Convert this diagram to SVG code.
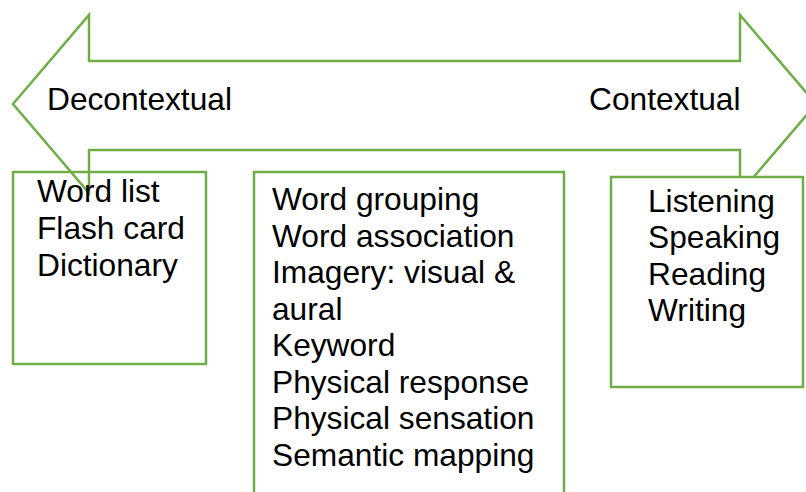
<svg xmlns="http://www.w3.org/2000/svg" width="806" height="492" viewBox="0 0 806 492">
  <style>
    .outline { stroke: #70AD47; stroke-width: 2.5; stroke-linejoin: miter; }
    .label { font-family: "Liberation Sans", Arial, sans-serif; font-size: 31.7px; fill: #000; }
  </style>
  <rect width="806" height="492" fill="#fff"/>

  <!-- double-headed arrow spanning the continuum -->
  <g id="continuum">
    <path class="outline" fill="#fff" d="M13,104 L89,15 L89,61 L740,61 L740,15 L816,104 L740,193 L740,150 L89,150 L89,193 Z"/>
    <text class="label" x="47" y="110">Decontextual</text>
    <text class="label" x="589" y="110">Contextual</text>
  </g>

  <!-- decontextual strategies -->
  <g id="box-decontextual">
    <rect class="outline" fill="none" x="13" y="172" width="193" height="192"/>
    <text class="label" x="37" y="202">Word list</text>
    <text class="label" x="37" y="239">Flash card</text>
    <text class="label" x="37" y="276">Dictionary</text>
  </g>

  <!-- intermediate strategies -->
  <g id="box-middle">
    <rect class="outline" fill="#fff" x="254" y="172" width="310" height="340"/>
    <text class="label" x="272" y="210">Word grouping</text>
    <text class="label" x="272" y="246.5">Word association</text>
    <text class="label" x="272" y="283">Imagery: visual &amp;</text>
    <text class="label" x="272" y="319.5">aural</text>
    <text class="label" x="272" y="356">Keyword</text>
    <text class="label" x="272" y="392.5">Physical response</text>
    <text class="label" x="272" y="429">Physical sensation</text>
    <text class="label" x="272" y="465.5">Semantic mapping</text>
  </g>

  <!-- contextual strategies -->
  <g id="box-contextual">
    <rect class="outline" fill="#fff" x="611" y="177" width="192" height="210"/>
    <text class="label" x="648" y="212">Listening</text>
    <text class="label" x="648" y="248">Speaking</text>
    <text class="label" x="648" y="285">Reading</text>
    <text class="label" x="648" y="321">Writing</text>
  </g>
</svg>
